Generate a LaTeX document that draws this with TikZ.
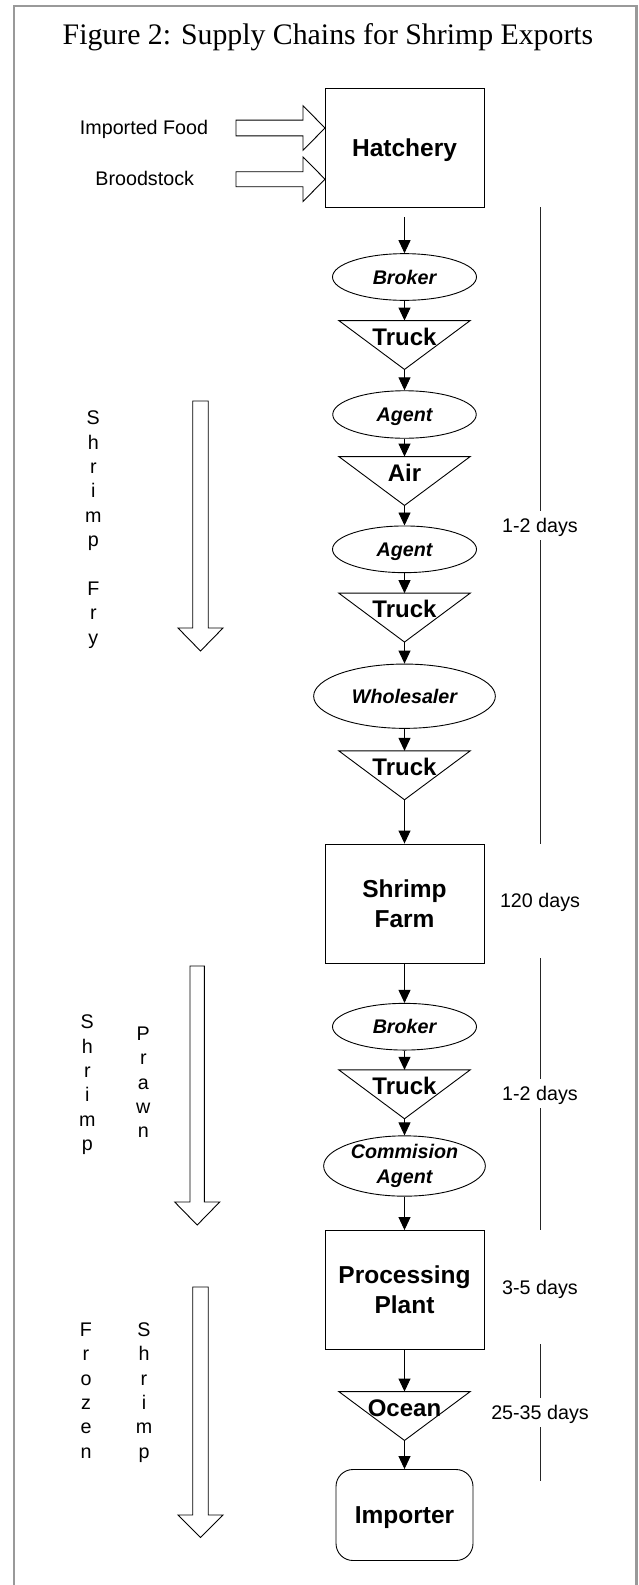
\documentclass[tikz,border=0pt]{standalone}
\usepackage{fontspec}
\setmainfont{Liberation Serif}
\newfontfamily\arialfont{Liberation Sans}
\usetikzlibrary{arrows.meta,shapes.geometric,backgrounds}
\begin{document}
\begin{tikzpicture}[x=1pt,y=-1pt,
  outl/.style={draw=black, line width=0.9pt},
  flow/.style={draw=black, line width=0.9pt, -{Triangle[length=13pt,width=12pt]}},
  stepbox/.style={outl, fill=white, rectangle, minimum width=159pt, minimum height=119pt, inner sep=0pt, align=center, font=\arialfont\bfseries\fontsize{24.5}{30}\selectfont},
  oval/.style={outl, fill=white, ellipse, inner sep=0pt, align=center, font=\arialfont\bfseries\itshape\fontsize{19.7}{24.3}\selectfont},
  onel/.style={text height=14.1pt, text depth=0pt},
  tri/.style={rectangle, minimum width=131pt, minimum height=48.5pt, inner sep=0pt, text height=17.2pt, text depth=17.2pt, font=\arialfont\bfseries\fontsize{24}{28}\selectfont},
  lbl/.style={font=\arialfont\fontsize{19.7}{24.4}\selectfont, inner sep=0pt},
  dur/.style={lbl, fill=white, text height=14.1pt, text depth=0pt, inner ysep=7.5pt, inner xsep=2pt},
  rline/.style={draw=black!85, line width=0.9pt},
  hollow/.style={draw=black, line width=0.9pt, fill=white},
  frame/.style={draw=black!40, line width=2.5pt}
]
\useasboundingbox (0,0) rectangle (638,1585);
\draw[frame] (14,1600) -- (14,6) -- (636.5,6) -- (636.5,1600);

% title
\node[anchor=base, font=\fontsize{29.8}{34}\selectfont, inner sep=0pt] (title) at (328,44) {Figure 2: Supply Chains for Shrimp Exports};

% input block arrows
\draw[hollow] (236,120.1) -- (303,120.1) -- (303,105.7) -- (325,128) -- (303,150.3) -- (303,135.9) -- (236,135.9) -- cycle;
\draw[hollow] (236,171.7) -- (303,171.7) -- (303,156.9) -- (325,179.2) -- (303,201.5) -- (303,186.7) -- (236,186.7) -- cycle;
\node[lbl, text height=14.1pt, text depth=0pt] (impf) at (144,127) {Imported Food};
\node[lbl, text height=14.1pt, text depth=0pt] (brood) at (144.7,178.3) {Broodstock};

% main chain
\node[stepbox, text height=17.5pt, text depth=0pt] (hatch) at (404.5,147.8) {Hatchery};
\node[oval, onel, minimum width=144pt, minimum height=46.7pt] (brk1) at (404.5,277) {Broker};
\node[tri] (tr1) at (404.5,345) {Truck};
\node[oval, onel, minimum width=143.5pt, minimum height=47.5pt] (ag1) at (404.5,414.5) {Agent};
\node[tri] (air) at (404.5,481) {Air};
\node[oval, onel, minimum width=144pt, minimum height=46.7pt] (ag2) at (404.5,549.3) {Agent};
\node[tri] (tr2) at (404.5,617.6) {Truck};
\node[oval, onel, minimum width=181.7pt, minimum height=64.3pt] (whs) at (404.5,696.2) {Wholesaler};
\node[tri] (tr3) at (404.5,775.3) {Truck};
\node[stepbox] (farm) at (404.5,903.5) {Shrimp\\Farm};
\node[oval, onel, minimum width=144pt, minimum height=46.7pt] (brk2) at (404.5,1026.7) {Broker};
\node[tri] (tr4) at (404.5,1094.3) {Truck};
\node[oval, minimum width=161.7pt, minimum height=53.4pt] (com) at (404.5,1166) {Commision\\Agent};
\node[stepbox] (plant) at (404.5,1290) {Processing\\Plant};
\node[tri] (ocn) at (404.5,1416) {Ocean};
\node[stepbox, rounded corners=17pt, minimum width=137pt, minimum height=91pt, text height=17.5pt, text depth=0pt] (imp) at (404.5,1515) {Importer};

\begin{scope}[on background layer]
  \foreach \n in {tr1,air,tr2,tr3,tr4,ocn}
    \draw[outl, line join=miter] (\n.north west) -- (\n.north east) -- (\n.south) -- cycle;
\end{scope}

% connectors
\draw[flow, shorten <=9.5pt] (hatch) -- (brk1);
\draw[flow] (brk1) -- (tr1);
\draw[flow] (tr1) -- (ag1);
\draw[flow] (ag1) -- (air);
\draw[flow] (air) -- (ag2);
\draw[flow] (ag2) -- (tr2);
\draw[flow] (tr2) -- (whs);
\draw[flow] (whs) -- (tr3);
\draw[flow] (tr3) -- (farm);
\draw[flow] (farm) -- (brk2);
\draw[flow] (brk2) -- (tr4);
\draw[flow] (tr4) -- (com);
\draw[flow] (com) -- (plant);
\draw[flow] (plant) -- (ocn);
\draw[flow] (ocn) -- (imp);

% duration lines
\coordinate (r1a) at (540,207.3);
\coordinate (r1b) at (540,843.5);
\coordinate (r2a) at (540,958.3);
\coordinate (r2b) at (540,1230);
\coordinate (r3a) at (540,1344);
\coordinate (r3b) at (540,1480.7);
\draw[rline] (r1a) -- (r1b);
\draw[rline] (r2a) -- (r2b);
\draw[rline] (r3a) -- (r3b);
\node[dur] (d1) at (540,525.7) {1-2 days};
\node[lbl, text height=14.1pt, text depth=0pt] (d2) at (540,900.7) {120 days};
\node[dur] (d3) at (540,1093.5) {1-2 days};
\node[lbl, text height=14.1pt, text depth=0pt] (d4) at (540,1287.3) {3-5 days};
\node[dur] (d5) at (540,1412.7) {25-35 days};

% side block arrows
\draw[hollow] (192.75,401) -- (208.25,401) -- (208.25,628) -- (223,628) -- (200.5,651) -- (178,628) -- (192.75,628) -- cycle;
\draw[hollow] (190,966) -- (204.4,966) -- (204.4,1202) -- (219.7,1202) -- (197.2,1225) -- (174.7,1202) -- (190,1202) -- cycle;
\draw[hollow] (192.75,1287) -- (208.25,1287) -- (208.25,1515) -- (223,1515) -- (200.5,1537.5) -- (178,1515) -- (192.75,1515) -- cycle;

% vertical letters
\foreach \c/\k in {S/0,h/1,r/2,i/3,m/4,p/5,F/7,r/8,y/9}
  \node[lbl, anchor=base] (sa\k) at (93.3,{424.7+24.4*\k}) {\c};
\foreach \c/\k in {S/0,h/1,r/2,i/3,m/4,p/5}
  \node[lbl, anchor=base] (sb\k) at (87.3,{1028.7+24.4*\k}) {\c};
\foreach \c/\k in {P/0,r/1,a/2,w/3,n/4}
  \node[lbl, anchor=base] (pr\k) at (143.3,{1040.3+24.4*\k}) {\c};
\foreach \c/\k in {F/0,r/1,o/2,z/3,e/4,n/5}
  \node[lbl, anchor=base] (fz\k) at (86,{1336.3+24.4*\k}) {\c};
\foreach \c/\k in {S/0,h/1,r/2,i/3,m/4,p/5}
  \node[lbl, anchor=base] (sc\k) at (144,{1336.3+24.4*\k}) {\c};
\end{tikzpicture}
\end{document}
